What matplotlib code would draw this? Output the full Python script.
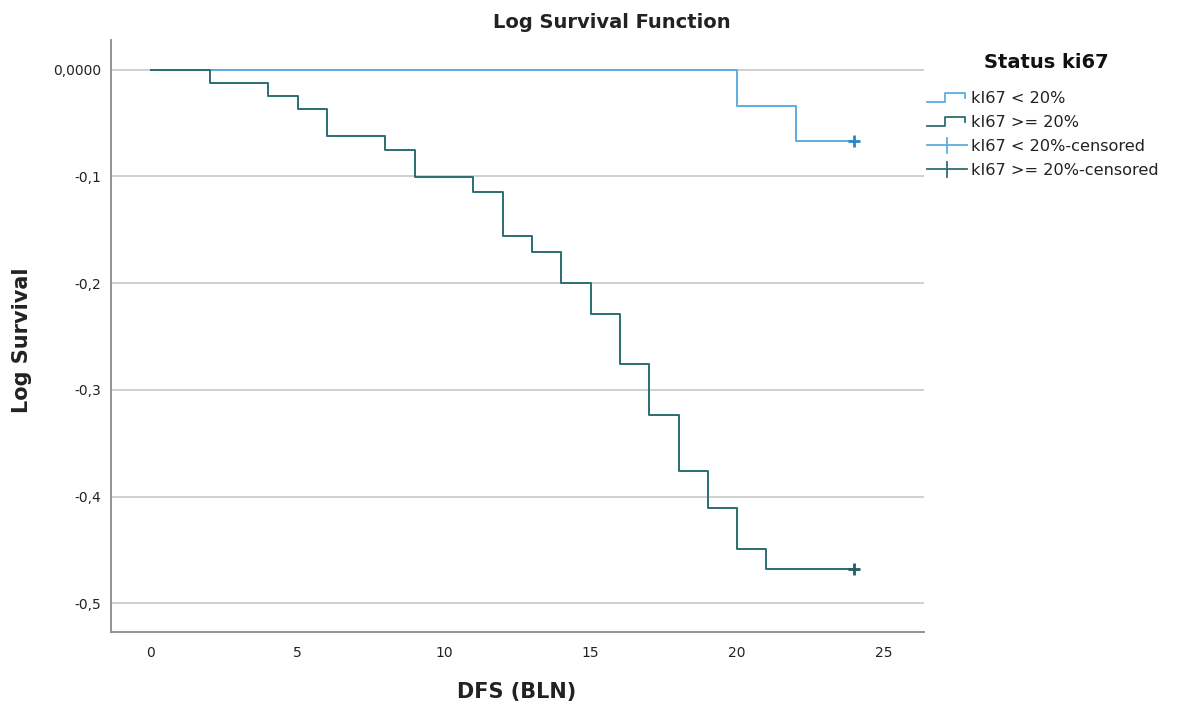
"""
Log survival step plot (Kaplan-Meier style) for ki67 status groups.
"""
import matplotlib
matplotlib.use("Agg")
import matplotlib.pyplot as plt
from matplotlib.lines import Line2D
from matplotlib.legend_handler import HandlerBase
from matplotlib.ticker import FuncFormatter

# ==================== DATA ====================
# step times and log survival after each step
low_times = [0, 20, 22, 24]
low_logsurv = [0.0, -0.034, -0.067, -0.067]

high_times = [0, 2, 4, 5, 6, 8, 9, 11, 12, 13, 14, 15, 16, 17, 18, 19, 20, 21, 24]
high_logsurv = [0.0, -0.0125, -0.0245, -0.037, -0.0625, -0.075, -0.1005, -0.115,
                -0.156, -0.171, -0.200, -0.229, -0.276, -0.324, -0.376, -0.411,
                -0.449, -0.468, -0.468]

# censored observations
low_cens_t = [24]
low_cens_y = [-0.067]
high_cens_t = [24]
high_cens_y = [-0.468]

x_ticks = [0, 5, 10, 15, 20, 25]
y_ticks = [0.0, -0.1, -0.2, -0.3, -0.4, -0.5]

legend_labels = ["kI67 < 20%", "kI67 >= 20%", "kI67 < 20%-censored", "kI67 >= 20%-censored"]

LOW_COLOR = "#5aaee0"
LOW_CENS_COLOR = "#2a86c8"
HIGH_COLOR = "#2b6e72"
HIGH_CENS_COLOR = "#1f5f63"
GRID_COLOR = "#c8c8c8"
SPINE_COLOR = "#8a8a8a"
TEXT_COLOR = "#222222"


class StepHandler(HandlerBase):
    """Legend glyph that looks like a little step."""
    def create_artists(self, legend, orig_handle, xdescent, ydescent,
                       width, height, fontsize, trans):
        x0, x1 = -xdescent, -xdescent + width
        y0, y1 = -ydescent + 0.0 * height, -ydescent + 0.95 * height
        xm = x0 + 0.45 * width
        xs = [x0, xm, xm, x1 - 0.05 * width, x1 - 0.05 * width]
        ys = [y0, y0, y1, y1, y0 + 0.4 * height]
        ln = Line2D(xs, ys, color=orig_handle.get_color(),
                    linewidth=orig_handle.get_linewidth(), transform=trans)
        return [ln]


class PlusHandler(HandlerBase):
    """Legend glyph: horizontal line with a tall plus at the middle."""
    def create_artists(self, legend, orig_handle, xdescent, ydescent,
                       width, height, fontsize, trans):
        x0, x1 = -xdescent, -xdescent + width
        ym = -ydescent + height / 2
        xm = (x0 + x1) / 2
        h = Line2D([x0, x1], [ym, ym], color=orig_handle.get_color(),
                   linewidth=orig_handle.get_linewidth(), transform=trans)
        v = Line2D([xm, xm], [ym - 0.8 * height, ym + 0.7 * height],
                   color=orig_handle.get_color(),
                   linewidth=orig_handle.get_linewidth(), transform=trans)
        return [h, v]


def comma_fmt(v, pos):
    if abs(v) < 1e-9:
        return "0,0000"
    return f"{v:.1f}".replace(".", ",")


fig = plt.figure(figsize=(11.81, 7.11), dpi=100)
ax = fig.add_axes([0.094, 0.111, 0.688, 0.833])

ax.step(low_times, low_logsurv, where="post", color=LOW_COLOR, linewidth=1.4, zorder=3)
ax.step(high_times, high_logsurv, where="post", color=HIGH_COLOR, linewidth=1.4, zorder=3)
ax.plot(low_cens_t, low_cens_y, linestyle="none", marker="+", markersize=9,
        markeredgewidth=2, color=LOW_CENS_COLOR, zorder=4)
ax.plot(high_cens_t, high_cens_y, linestyle="none", marker="+", markersize=9,
        markeredgewidth=2, color=HIGH_CENS_COLOR, zorder=4)

ax.set_xlim(-1.364, 26.36)
ax.set_ylim(-0.527, 0.028)
ax.set_xticks(x_ticks)
ax.set_yticks(y_ticks)
ax.yaxis.set_major_formatter(FuncFormatter(comma_fmt))
ax.tick_params(length=0, labelsize=10, colors=TEXT_COLOR, pad=7)
ax.tick_params(axis="x", pad=10)
ax.grid(axis="y", color=GRID_COLOR, linewidth=1.2)
ax.set_axisbelow(True)

for side in ("top", "right"):
    ax.spines[side].set_visible(False)
for side in ("left", "bottom"):
    ax.spines[side].set_color(SPINE_COLOR)
    ax.spines[side].set_linewidth(1.3)

ax.set_xlabel("DFS (BLN)", fontsize=15, fontweight="bold", color=TEXT_COLOR)
ax.set_ylabel("Log Survival", fontsize=15, fontweight="bold", color=TEXT_COLOR)
ax.xaxis.set_label_coords((517 - 111) / 813, -(682 - 632) / 592)
ax.yaxis.set_label_coords(-(111 - 32) / 813, (632 - 340) / 592)
fig.text(612 / 1181, 1 - 22 / 711, "Log Survival Function", ha="center", va="center",
         fontsize=14, fontweight="bold", color=TEXT_COLOR)

# ---- legend ----
fig.text(1046 / 1181, 1 - 63 / 711, "Status ki67", ha="center", va="center",
         fontsize=14, fontweight="bold", color="#111111")

h_low = Line2D([], [], color=LOW_COLOR, linewidth=1.3)
h_high = Line2D([], [], color=HIGH_COLOR, linewidth=1.3)
h_low_c = Line2D([], [], color=LOW_COLOR, linewidth=1.3)
h_high_c = Line2D([], [], color=HIGH_COLOR, linewidth=1.3)

leg = fig.legend(
    [h_low, h_high, h_low_c, h_high_c], legend_labels,
    handler_map={h_low: StepHandler(), h_high: StepHandler(),
                 h_low_c: PlusHandler(), h_high_c: PlusHandler()},
    loc="upper left", bbox_to_anchor=(927 / 1181, 1 - 91 / 711),
    frameon=False, fontsize=11.6, borderpad=0,
    handlelength=2.5, handleheight=0.6, handletextpad=0.25,
    labelspacing=0.55, borderaxespad=0,
)
for t in leg.get_texts():
    t.set_color(TEXT_COLOR)

plt.savefig("out.png", dpi=100)
plt.close()
